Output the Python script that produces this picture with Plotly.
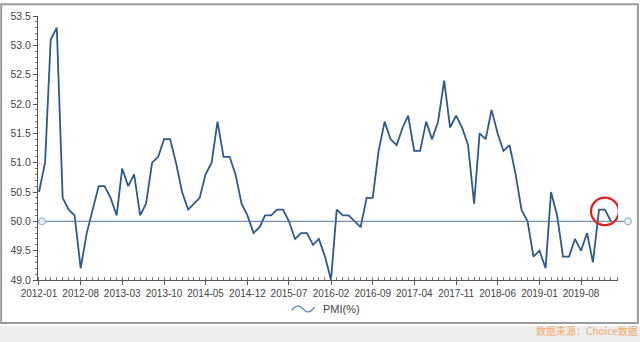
import plotly.graph_objects as go
import pandas as pd

# Monthly data 2012-01 .. 2020-01
months = pd.date_range("2012-01-01", "2020-01-01", freq="MS").strftime("%Y-%m-%d").tolist()
pmi = [
    50.5, 51.0, 53.1, 53.3, 50.4, 50.2, 50.1, 49.2, 49.8, 50.2, 50.6, 50.6,   # 2012
    50.4, 50.1, 50.9, 50.6, 50.8, 50.1, 50.3, 51.0, 51.1, 51.4, 51.4, 51.0,   # 2013
    50.5, 50.2, 50.3, 50.4, 50.8, 51.0, 51.7, 51.1, 51.1, 50.8, 50.3, 50.1,   # 2014
    49.8, 49.9, 50.1, 50.1, 50.2, 50.2, 50.0, 49.7, 49.8, 49.8, 49.6, 49.7,   # 2015
    49.4, 49.0, 50.2, 50.1, 50.1, 50.0, 49.9, 50.4, 50.4, 51.2, 51.7, 51.4,   # 2016
    51.3, 51.6, 51.8, 51.2, 51.2, 51.7, 51.4, 51.7, 52.4, 51.6, 51.8, 51.6,   # 2017
    51.3, 50.3, 51.5, 51.4, 51.9, 51.5, 51.2, 51.3, 50.8, 50.2, 50.0, 49.4,   # 2018
    49.5, 49.2, 50.5, 50.1, 49.4, 49.4, 49.7, 49.5, 49.8, 49.3, 50.2, 50.2,   # 2019
    50.0,                                                                      # 2020
]
threshold = 50.0
series_name = "PMI(%)"
y_ticks = [49.0, 49.5, 50.0, 50.5, 51.0, 51.5, 52.0, 52.5, 53.0, 53.5]
highlight_x = "2019-12-01"
highlight_y = 50.17

L, R, T, B = 35, 618, 10, 280  # plot area pixels
W, H = R - L, B - T

def px_x(p):
    return (p - L) / W
def px_y(p):
    return (B - p) / H

fig = go.Figure()
fig.add_trace(go.Scatter(
    x=months, y=pmi, mode="lines", name=series_name, showlegend=False,
    line=dict(color="#2d5a8b", width=1.8),
))

# threshold line with end circles (extends slightly past the axis)
x0p, x1p = px_x(39), px_x(628)
fig.add_shape(type="line", xref="paper", yref="y", x0=x0p, x1=x1p, y0=threshold, y1=threshold,
              line=dict(color="#557896", width=1))
for xp in (x0p, x1p):
    fig.add_shape(type="circle", xref="paper", yref="y",
                  xsizemode="pixel", ysizemode="pixel", xanchor=xp, yanchor=threshold,
                  x0=-3.5, x1=3.5, y0=-3.5, y1=3.5,
                  fillcolor="#e4eef8", line=dict(color="#86a9c9", width=1))

# red highlight circle
hx = pd.Timestamp(highlight_x)
fig.add_shape(type="circle", xref="x", yref="y",
              x0=hx - pd.Timedelta(days=71), x1=hx + pd.Timedelta(days=71),
              y0=highlight_y - 0.235, y1=highlight_y + 0.235,
              line=dict(color="#e0201e", width=2.2))

# legend: wave icon + label
pts = [(290, 311), (294, 305.5), (298, 305.5), (301.5, 309.5), (305, 314), (309, 314), (313, 307.5)]
P = [(px_x(a), px_y(b)) for a, b in pts]
path = (f"M{P[0][0]},{P[0][1]} C{P[1][0]},{P[1][1]} {P[2][0]},{P[2][1]} {P[3][0]},{P[3][1]} "
        f"C{P[4][0]},{P[4][1]} {P[5][0]},{P[5][1]} {P[6][0]},{P[6][1]}")
fig.add_shape(type="path", xref="paper", yref="paper", path=path,
              line=dict(color="#5a87b8", width=1.3))
fig.add_annotation(text=series_name, xref="paper", yref="paper",
                   x=px_x(319), y=px_y(310), xanchor="left", yanchor="middle",
                   showarrow=False, font=dict(size=11, color="#444444"))

# outer frame and bottom strip
fig.add_shape(type="rect", xref="paper", yref="paper",
              x0=px_x(-2), x1=px_x(638), y0=px_y(324), y1=px_y(-2),
              line=dict(color="#9a9a9a", width=2), layer="below")
fig.add_shape(type="rect", xref="paper", yref="paper",
              x0=px_x(-5), x1=px_x(645), y0=px_y(345), y1=px_y(327),
              line=dict(width=0), fillcolor="#eeeeee", layer="below")

fig.add_annotation(text="数据来源：Choice数据", xref="paper", yref="paper",
                   x=px_x(640), y=px_y(332), xanchor="right", yanchor="middle",
                   showarrow=False, font=dict(size=10, color="#f2a766",
                   family="Noto Sans CJK SC"))

fig.update_layout(
    width=640, height=342,
    margin=dict(l=L, r=640 - R, t=T, b=342 - B),
    paper_bgcolor="white", plot_bgcolor="white",
    font=dict(family="Liberation Sans, Arial", size=11, color="#444444"),
    showlegend=False,
    xaxis=dict(
        type="date", range=["2011-12-27", "2020-02-06"],
        tick0="2012-01-01", dtick="M7", tickformat="%Y-%m", tickangle=0,
        showgrid=False, zeroline=False,
        showline=True, linecolor="#555555", linewidth=1,
        ticks="outside", ticklen=4, tickcolor="#555555",
        minor=dict(dtick="M1", ticks="inside", ticklen=3, tickcolor="#777777", showgrid=False),
        tickfont=dict(size=10, color="#444444"),
    ),
    yaxis=dict(
        range=[49.0, 53.5], tickvals=y_ticks, tickformat=".1f",
        showgrid=False, zeroline=False,
        showline=True, linecolor="#555555", linewidth=1,
        ticks="outside", ticklen=4, tickcolor="#555555",
        minor=dict(dtick=0.1, ticks="outside", ticklen=2, tickcolor="#777777", showgrid=False),
        tickfont=dict(size=10.5, color="#444444"),
    ),
)

fig.write_html("out.html")
